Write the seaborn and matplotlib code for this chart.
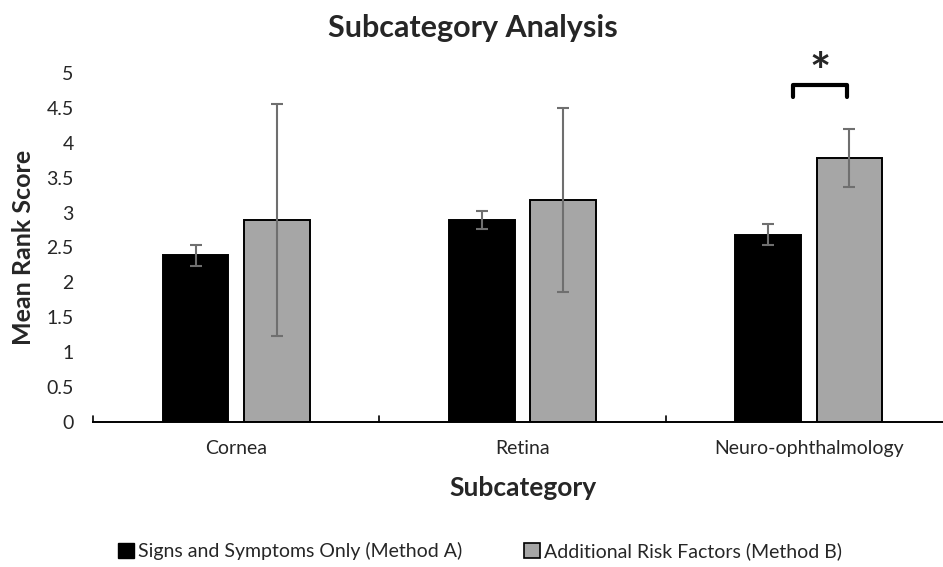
import matplotlib
matplotlib.use("Agg")
import matplotlib.pyplot as plt
import seaborn as sns
import pandas as pd
from matplotlib.patches import Patch

# Data
categories = ["Cornea", "Retina", "Neuro-ophthalmology"]
methods = ["Signs and Symptoms Only (Method A)", "Additional Risk Factors (Method B)"]
method_a_mean = [2.39, 2.89, 2.68]
method_a_err = [0.15, 0.13, 0.15]
method_b_mean = [2.89, 3.18, 3.78]
method_b_err = [1.66, 1.32, 0.42]
y_ticks = [0, 0.5, 1, 1.5, 2, 2.5, 3, 3.5, 4, 4.5, 5]
y_tick_labels = ["0", "0.5", "1", "1.5", "2", "2.5", "3", "3.5", "4", "4.5", "5"]

df = pd.DataFrame({
    "Subcategory": categories * 2,
    "Method": [methods[0]] * 3 + [methods[1]] * 3,
    "Score": method_a_mean + method_b_mean,
})

sns.set_theme(style="white")
plt.rcParams["font.family"] = ["Lato", "DejaVu Sans"]

fig = plt.figure(figsize=(9.43, 5.67), dpi=100)
ax = fig.add_axes([93 / 943, 1 - 422 / 567, (952 - 93) / 943, (422 - 73) / 567])

palette = {methods[0]: "#000000", methods[1]: "#A6A6A6"}
sns.barplot(data=df, x="Subcategory", y="Score", hue="Method", order=categories,
            hue_order=methods, palette=palette, width=0.566, gap=0.19,
            edgecolor="black", linewidth=1.4, saturation=1, errorbar=None,
            legend=False, ax=ax)

# Error bars at each bar's centre: category from position, method from side
errs = {0: method_a_err, 1: method_b_err}
for patch in ax.patches:
    h = patch.get_height()
    xc = patch.get_x() + patch.get_width() / 2
    cat = int(round(xc))
    side = 0 if xc < cat else 1
    ax.errorbar(xc, h, yerr=errs[side][cat], fmt="none", ecolor="#6f6f6f",
                elinewidth=1.5, capsize=4, capthick=1.5, zorder=5)

ax.set_xlim(-0.5, 2.5)
ax.set_ylim(0, 5)
ax.set_yticks(y_ticks)
ax.set_yticklabels(y_tick_labels, fontsize=14)
ax.tick_params(axis="y", length=0, pad=14)
ax.set_xticks([0, 1, 2])
ax.set_xticklabels(categories, fontsize=14)
ax.tick_params(axis="x", length=0, pad=13)

for s in ["top", "right", "left"]:
    ax.spines[s].set_visible(False)
ax.spines["bottom"].set_color("black")
ax.spines["bottom"].set_linewidth(1.4)

# Small inward tick marks between categories
for xb in [-0.5, 0.5, 1.5]:
    ax.plot([xb, xb], [0, 0.09], color="black", lw=1.2, clip_on=False)

ax.set_xlabel("Subcategory", fontsize=19, fontweight="bold", labelpad=14)
ax.set_ylabel("Mean Rank Score", fontsize=18, fontweight="bold", labelpad=8)

# Significance bracket
ax.plot([1.943, 1.943, 2.135, 2.135], [4.66, 4.83, 4.83, 4.66], color="black",
        lw=3, clip_on=False, solid_joinstyle="round", solid_capstyle="round")
ax.text(2.04, 4.98, "*", ha="center", va="center", fontsize=36, fontweight="bold",
        clip_on=False)

fig.text(473 / 943, 1 - 28 / 567, "Subcategory Analysis", ha="center", va="center",
         fontsize=22, fontweight="bold")

handles = [Patch(facecolor="#000000", edgecolor="black"),
           Patch(facecolor="#A6A6A6", edgecolor="black", linewidth=1.2)]
fig.legend(handles, methods, loc="center", bbox_to_anchor=(480 / 943, 1 - 551 / 567),
           ncol=2, frameon=False, fontsize=14, handlelength=0.8, handleheight=0.8,
           handletextpad=0.2, columnspacing=3.2)

fig.savefig("out.png", dpi=100)
